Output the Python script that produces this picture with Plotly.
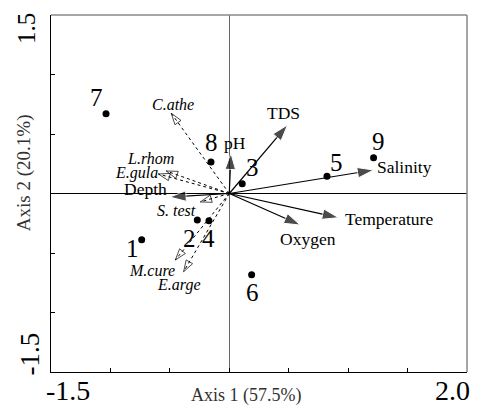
import plotly.graph_objects as go

# ---------------- data ----------------
site_names = ["1", "2", "3", "4", "5", "6", "7", "8", "9"]
site_x = [-0.737, -0.269, 0.109, -0.171, 0.822, 0.188, -1.037, -0.154, 1.214]
site_y = [-0.388, -0.223, 0.082, -0.228, 0.144, -0.682, 0.671, 0.265, 0.301]

env_names = ["TDS", "Salinity", "Temperature", "Oxygen", "pH", "Depth"]
env_x = [0.49, 1.214, 0.919, 0.597, 0.014, -0.50]
env_y = [0.576, 0.197, -0.203, -0.265, 0.338, -0.03]

species_names = ["C.athe", "L.rhom", "E.gula", "S. test", "M.cure", "E.arge"]
species_x = [-0.488, -0.530, -0.597, -0.244, -0.454, -0.384]
species_y = [0.674, 0.189, 0.164, -0.071, -0.559, -0.657]

x_title = "Axis 1 (57.5%)"
y_title = "Axis 2 (20.1%)"
x_range = [-1.5, 2.0]
y_range = [-1.5, 1.5]

# ---------------- label offsets (px, styling) ----------------
site_off = {"1": (-9, -9), "2": (-8, -18), "3": (10, 16), "4": (0, -18),
            "5": (10, 14), "6": (1, -18), "7": (-10, 16), "8": (1, 19), "9": (5, 16)}
env_off = {"TDS": (-4, 12), "Salinity": (31, 3), "Temperature": (50, -1),
           "Oxygen": (8, -14), "pH": (4, 10), "Depth": (-24, 8)}
species_off = {"C.athe": (2, 9), "L.rhom": (-16, 13), "E.gula": (-22, 1),
               "S. test": (-24, -9), "M.cure": (-23, -10), "E.arge": (-5, -13)}

FONT = "Liberation Serif, Times New Roman, serif"

fig = go.Figure()

# species vectors (dotted, open heads)
for name, x, y in zip(species_names, species_x, species_y):
    fig.add_trace(go.Scatter(
        x=[0, x], y=[0, y], mode="lines+markers",
        line=dict(color="black", width=1, dash="dot"),
        marker=dict(symbol=["circle", "arrow-open"], size=[0, 12], color="black",
                    angleref="previous", line=dict(color="black", width=1)),
        hoverinfo="skip", showlegend=False))

# environmental vectors (solid, filled heads)
for name, x, y in zip(env_names, env_x, env_y):
    fig.add_trace(go.Scatter(
        x=[0, x], y=[0, y], mode="lines+markers",
        line=dict(color="black", width=1.2),
        marker=dict(symbol=["circle", "arrow"], size=[0, 17], color="black",
                    angleref="previous"),
        hoverinfo="skip", showlegend=False))

# sites
fig.add_trace(go.Scatter(
    x=site_x, y=site_y, mode="markers",
    marker=dict(symbol="circle", size=7, color="black"),
    hoverinfo="skip", showlegend=False))

ann = []
for name, x, y in zip(site_names, site_x, site_y):
    dx, dy = site_off[name]
    ann.append(dict(x=x, y=y, text=name, showarrow=False, xshift=dx, yshift=dy,
                    font=dict(family=FONT, size=25, color="black")))
for name, x, y in zip(env_names, env_x, env_y):
    dx, dy = env_off[name]
    ann.append(dict(x=x, y=y, text=name, showarrow=False, xshift=dx, yshift=dy,
                    font=dict(family=FONT, size=17.5, color="black")))
for name, x, y in zip(species_names, species_x, species_y):
    dx, dy = species_off[name]
    ann.append(dict(x=x, y=y, text="<i>%s</i>" % name, showarrow=False, xshift=dx, yshift=dy,
                    font=dict(family=FONT, size=16, color="black")))

# corner tick labels
ann.append(dict(x=x_range[0], y=0, xref="x", yref="paper", text=str(x_range[0]), showarrow=False,
                xanchor="left", yanchor="top", xshift=-7, yshift=-1,
                font=dict(family=FONT, size=28, color="black")))
ann.append(dict(x=x_range[1], y=0, xref="x", yref="paper", text="%.1f" % x_range[1], showarrow=False,
                xanchor="right", yanchor="top", xshift=5, yshift=-1,
                font=dict(family=FONT, size=28, color="black")))
ann.append(dict(x=0, y=y_range[1], xref="paper", yref="y", text=str(y_range[1]), showarrow=False,
                xanchor="right", yanchor="top", textangle=-90, xshift=-9, yshift=4,
                font=dict(family=FONT, size=25, color="black")))
ann.append(dict(x=0, y=y_range[0], xref="paper", yref="y", text=str(y_range[0]), showarrow=False,
                xanchor="right", yanchor="bottom", textangle=-90, xshift=-5, yshift=-6,
                font=dict(family=FONT, size=27, color="black")))
# axis titles
ann.append(dict(x=0.470, y=0, xref="paper", yref="paper", text=x_title, showarrow=False,
                xanchor="center", yanchor="top", yshift=-11,
                font=dict(family=FONT, size=18, color="#333333")))
ann.append(dict(x=0, y=0.557, xref="paper", yref="paper", text=y_title, showarrow=False,
                xanchor="right", yanchor="middle", textangle=-90, xshift=-14,
                font=dict(family=FONT, size=19, color="#333333")))

axis_common = dict(showgrid=False, showticklabels=False, ticks="inside", ticklen=4,
                   tickcolor="black", tickwidth=1, showline=True, linecolor="black",
                   linewidth=1, zeroline=True, dtick=0.5)

# the page body adds an 8px margin, so the figure is sized/offset to compensate
fig.update_layout(
    width=475, height=401,
    margin=dict(l=43, r=16, t=7, b=37),
    paper_bgcolor="white", plot_bgcolor="white",
    xaxis=dict(range=x_range, tick0=x_range[0], zerolinecolor="#666666", zerolinewidth=1,
               **axis_common),
    yaxis=dict(range=y_range, tick0=y_range[0], zerolinecolor="black", zerolinewidth=1.2,
               **axis_common),
    annotations=ann,
    shapes=[
        dict(type="line", xref="paper", yref="paper", x0=0, x1=1, y0=1, y1=1,
             line=dict(color="#888888", width=1.5)),
        dict(type="line", xref="paper", yref="paper", x0=1, x1=1, y0=0, y1=1,
             line=dict(color="#888888", width=1.5)),
    ],
)

fig.write_html("out.html")
